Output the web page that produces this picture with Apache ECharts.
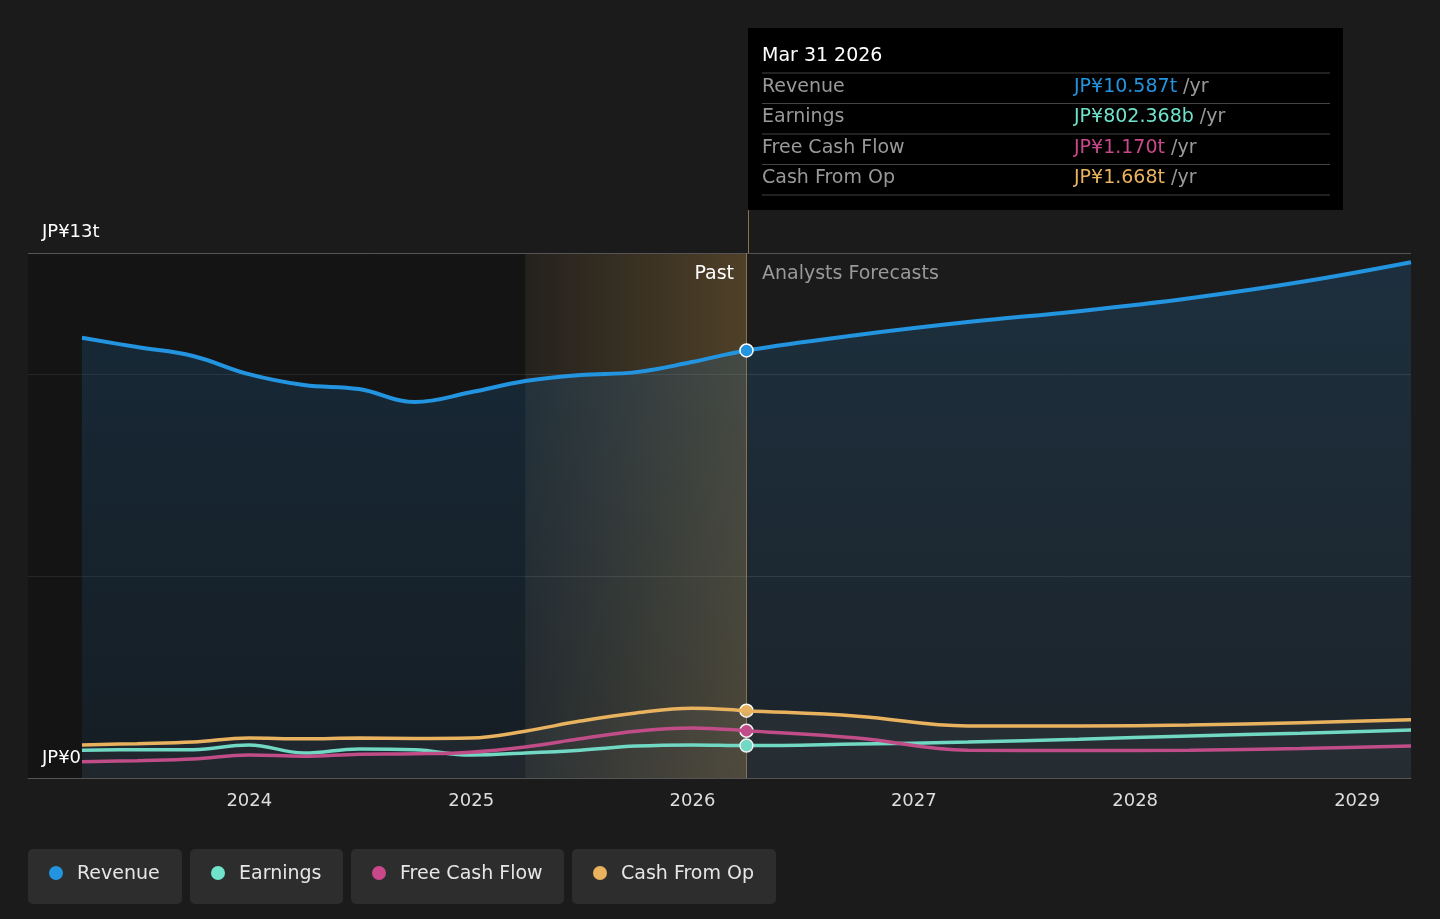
<!DOCTYPE html><html><head><meta charset="utf-8">
<script src="https://cdn.jsdelivr.net/npm/echarts@6/dist/echarts.min.js"></script>
<style>html,body{margin:0;background:#1b1b1b}#c{width:1440px;height:919px}</style></head><body><div id="c"></div>
<script>
const dates=['2023-03-31','2023-06-30','2023-09-30','2023-12-31','2024-03-31','2024-06-30','2024-09-30','2024-12-31','2025-03-31','2025-06-30','2025-09-30','2025-12-31','2026-03-31','2026-09-30','2027-03-31','2027-09-30','2028-03-31','2028-09-30','2029-03-31'];
const revenue=[10.9,10.67,10.45,10.0,9.73,9.63,9.31,9.55,9.83,9.98,10.05,10.3,10.587,10.97,11.29,11.56,11.88,12.28,12.77];
const earnings=[0.69,0.7,0.7,0.82,0.62,0.72,0.7,0.57,0.62,0.69,0.79,0.82,0.802,0.84,0.89,0.96,1.04,1.11,1.19];
const fcf=[0.4,0.43,0.47,0.57,0.54,0.59,0.6,0.64,0.77,0.97,1.16,1.24,1.17,0.99,0.69,0.68,0.69,0.73,0.79];
const cfo=[0.82,0.85,0.89,0.99,0.97,0.99,0.98,0.99,1.16,1.41,1.61,1.73,1.668,1.53,1.29,1.29,1.31,1.37,1.44];
const names=['Revenue','Earnings','Free Cash Flow','Cash From Op'];
const colors=['#2394df','#6fe3cc','#c9488a','#e8b25f'];
const tipVals=['JP¥10.587t','JP¥802.368b','JP¥1.170t','JP¥1.668t'];
const pair=a=>dates.map((d,i)=>[d,a[i]]);
const all=[revenue,earnings,fcf,cfo];
const series=all.map((a,k)=>({name:names[k],type:'line',smooth:0.4,symbol:'none',data:pair(a),z:3+k,
 lineStyle:{color:colors[k],width:k==0?4:3.5},
 areaStyle:k==0?{color:{type:'linear',x:0,y:0,x2:0,y2:1,colorStops:[{offset:0,color:'rgba(35,110,170,0.35)'},{offset:1,color:'rgba(35,110,170,0.15)'}]}}:(k==3?{color:'rgba(120,120,120,0.15)'}:undefined),
 markPoint:{symbol:'circle',symbolSize:13,data:[{coord:['2026-03-31',a[12]],itemStyle:{color:colors[k],borderColor:'#fff',borderWidth:1.5}}],label:{show:false}}
}));
series.push({name:'bg',type:'line',data:[],z:1,
 markArea:{silent:true,data:[
 [{xAxis:'2023-01-01',itemStyle:{color:'rgba(0,0,0,0.25)'}},{xAxis:'2025-03-31'}],
 [{xAxis:'2025-03-31',itemStyle:{color:{type:'linear',x:0,y:0,x2:1,y2:0,colorStops:[{offset:0,color:'rgba(200,150,70,0.05)'},{offset:1,color:'rgba(200,150,70,0.3)'}]}}},{xAxis:'2026-03-31'}]]},
 markLine:{silent:true,symbol:'none',label:{show:false},lineStyle:{color:'#555',type:'solid',width:1},data:[{yAxis:13}]}});
series.push({name:'div',type:'line',data:[],z:2,markLine:{silent:true,symbol:'none',label:{show:false},lineStyle:{color:'#8a7250',type:'solid',width:1},data:[{xAxis:'2026-03-31'}]}});
const g=[];
const lx=[28,190,351,572],lw=[154,153,213,204];
names.forEach((n,i)=>{g.push({type:'rect',shape:{x:lx[i],y:849,width:lw[i],height:55,r:5},style:{fill:'#2d2d2d'}});
 g.push({type:'circle',shape:{cx:lx[i]+28,cy:873,r:7},style:{fill:colors[i]}});
 g.push({type:'text',x:lx[i]+49,y:874,style:{text:n,fill:'#e6e6e6',font:'19px "DejaVu Sans"',verticalAlign:'middle'}});});
g.push({type:'rect',shape:{x:748,y:28,width:595,height:182},style:{fill:'#000'},z:10});
g.push({type:'text',x:762,y:56,style:{text:'Mar 31 2026',fill:'#fff',font:'19px "DejaVu Sans"',verticalAlign:'middle'},z:11});
names.forEach((n,i)=>{const y=87+i*30.5;
 g.push({type:'line',shape:{x1:762,y1:y-14,x2:1330,y2:y-14},style:{stroke:'#444'},z:11});
 g.push({type:'text',x:762,y:y,style:{text:n,fill:'#999',font:'19px "DejaVu Sans"',verticalAlign:'middle'},z:11});
 g.push({type:'text',x:1074,y:y,style:{rich:{a:{fill:colors[i],font:'19px "DejaVu Sans"'},b:{fill:'#999',font:'19px "DejaVu Sans"'}},text:'{a|'+tipVals[i]+'}{b| /yr}',verticalAlign:'middle'},z:11});});
g.push({type:'line',shape:{x1:762,y1:195,x2:1330,y2:195},style:{stroke:'#444'},z:11});
g.push({type:'line',shape:{x1:748.5,y1:210,x2:748.5,y2:253},style:{stroke:'#8a7250'},z:11});
g.push({type:'text',x:42,y:232,style:{text:'JP¥13t',fill:'#fff',font:'18px "DejaVu Sans"',verticalAlign:'middle'}});
g.push({type:'text',x:42,y:758,style:{text:'JP¥0',fill:'#fff',font:'18px "DejaVu Sans"',verticalAlign:'middle'},z:12});
g.push({type:'text',x:734,y:274,style:{text:'Past',fill:'#fff',font:'19px "DejaVu Sans"',align:'right',verticalAlign:'middle'},z:12});
g.push({type:'text',x:762,y:274,style:{text:'Analysts Forecasts',fill:'#999',font:'19px "DejaVu Sans"',verticalAlign:'middle'},z:12});
const ch=echarts.init(document.getElementById('c'));
ch.setOption({backgroundColor:'#1b1b1b',animation:false,
 grid:{left:28,right:29,top:253,bottom:141},
 xAxis:{type:'time',min:'2023-01-01',max:'2029-03-31',axisLine:{lineStyle:{color:'#555'}},axisTick:{show:false},splitLine:{show:false},
  axisLabel:{color:'#ddd',fontSize:18,fontFamily:'DejaVu Sans',margin:14,formatter:v=>{const d=new Date(v);return d.getMonth()==0&&d.getDate()==1&&d.getFullYear()>2023?String(d.getFullYear()):'';}},interval:365.25*24*3600*1000},
 yAxis:{type:'value',min:0,max:13,interval:5,axisLabel:{show:false},axisLine:{show:false},splitLine:{lineStyle:{color:'#333'}}},
 series:series,graphic:g});
</script></body></html>
